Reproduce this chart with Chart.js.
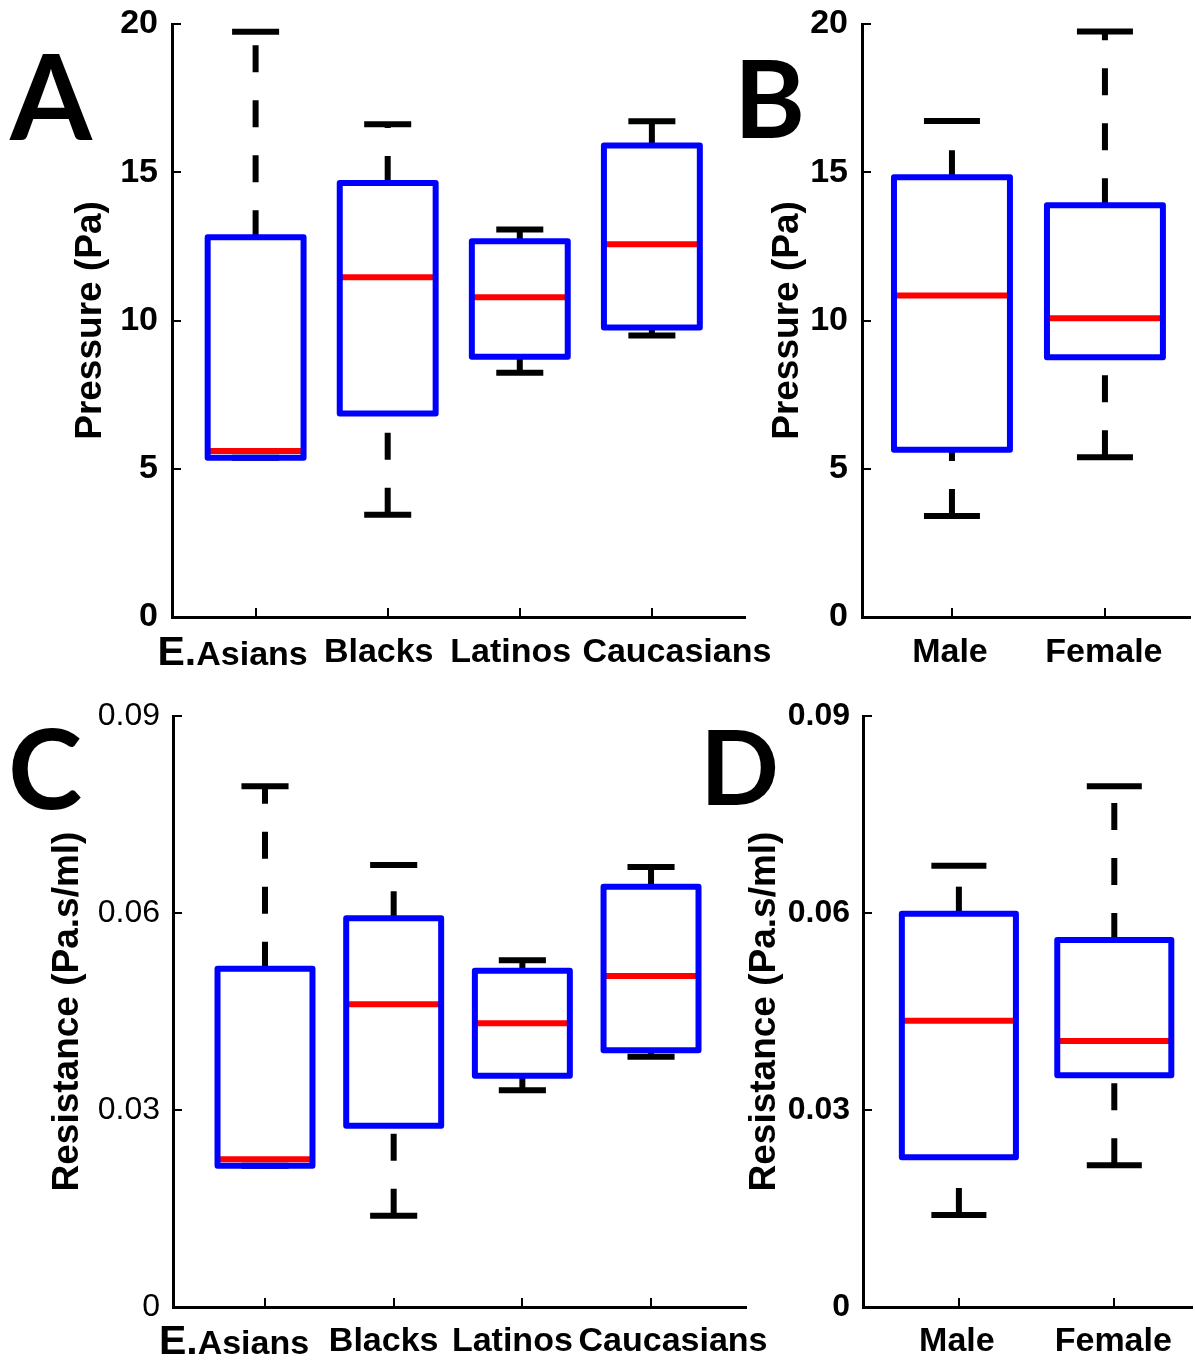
<!DOCTYPE html>
<html><head><meta charset="utf-8">
<script src="https://cdn.jsdelivr.net/npm/chart.js@4.4.1/dist/chart.umd.min.js"></script>
<style>
html,body{margin:0;padding:0;background:#fff;}
body{width:1195px;height:1363px;position:relative;overflow:hidden;}
canvas{position:absolute;}
</style></head><body>
<canvas id="cA" width="800" height="690" style="left:0px;top:0px"></canvas>
<canvas id="cB" width="495" height="690" style="left:700px;top:0px"></canvas>
<canvas id="cC" width="800" height="673" style="left:0px;top:690px"></canvas>
<canvas id="cD" width="495" height="673" style="left:700px;top:690px"></canvas>
<script>
// ---- categories ----
const ethnicGroups = ['E.Asians', 'Blacks', 'Latinos', 'Caucasians'];
const sexGroups = ['Male', 'Female'];

// ---- Panel A: Pressure (Pa) by ethnicity ----
const pressEthMin = [5.37, 3.45, 8.24, 9.49];
const pressEthQ1  = [5.37, 6.86, 8.78, 9.76];
const pressEthMed = [5.60, 11.46, 10.78, 12.57];
const pressEthQ3  = [12.81, 14.64, 12.67, 15.90];
const pressEthMax = [19.74, 16.62, 13.07, 16.72];

// ---- Panel B: Pressure (Pa) by sex ----
const pressSexMin = [3.41, 5.39];
const pressSexQ1  = [5.64, 8.76];
const pressSexMed = [10.84, 10.08];
const pressSexQ3  = [14.83, 13.89];
const pressSexMax = [16.73, 19.75];

// ---- Panel C: Resistance (Pa.s/ml) by ethnicity ----
const resEthMin = [0.0215, 0.0139, 0.0330, 0.0381];
const resEthQ1  = [0.0215, 0.0276, 0.0352, 0.0391];
const resEthMed = [0.0225, 0.0461, 0.0432, 0.0504];
const resEthQ3  = [0.0515, 0.0592, 0.0512, 0.0640];
const resEthMax = [0.0793, 0.0673, 0.0528, 0.0670];

// ---- Panel D: Resistance (Pa.s/ml) by sex ----
const resSexMin = [0.0140, 0.0216];
const resSexQ1  = [0.0228, 0.0353];
const resSexMed = [0.0436, 0.0405];
const resSexQ3  = [0.0599, 0.0559];
const resSexMax = [0.0672, 0.0793];

// ---- tick labels ----
const pressureTicks = [0, 5, 10, 15, 20];
const resistanceTicks = [0, 0.03, 0.06, 0.09];

const FONT = "'Liberation Sans', Arial, sans-serif";
const LETTER_FONT = "Lato, 'Open Sans', sans-serif";

function buildDatasets(groups, mins, q1s, meds, q3s, maxs, halfBox, halfCap) {
  const ds = [];
  const base = {pointRadius: 0, tension: 0, fill: false, clip: false, borderCapStyle: 'butt'};
  groups.forEach((g, i) => {
    const x = i + 1;
    ds.push(Object.assign({}, base, {
      label: g + ' box', order: 0, borderColor: '#0000ff', borderWidth: 6, borderJoinStyle: 'round', borderCapStyle: 'round',
      data: [{x: x - halfBox, y: q1s[i]}, {x: x + halfBox, y: q1s[i]}, {x: x + halfBox, y: q3s[i]}, {x: x - halfBox, y: q3s[i]}, {x: x - halfBox, y: q1s[i]}]
    }));
    ds.push(Object.assign({}, base, {
      label: g + ' median', order: 1, borderColor: '#ff0000', borderWidth: 6,
      data: [{x: x - halfBox, y: meds[i]}, {x: x + halfBox, y: meds[i]}]
    }));
    ds.push(Object.assign({}, base, {
      label: g + ' lower whisker', order: 2, borderColor: '#000', borderWidth: 6, borderDash: [27, 28],
      data: [{x: x, y: mins[i]}, {x: x, y: q1s[i]}]
    }));
    ds.push(Object.assign({}, base, {
      label: g + ' upper whisker', order: 2, borderColor: '#000', borderWidth: 6, borderDash: [27, 28],
      data: [{x: x, y: q3s[i]}, {x: x, y: maxs[i]}]
    }));
    ds.push(Object.assign({}, base, {
      label: g + ' lower cap', order: 2, borderColor: '#000', borderWidth: 6,
      data: [{x: x - halfCap, y: mins[i]}, {x: x + halfCap, y: mins[i]}]
    }));
    ds.push(Object.assign({}, base, {
      label: g + ' upper cap', order: 2, borderColor: '#000', borderWidth: 6,
      data: [{x: x - halfCap, y: maxs[i]}, {x: x + halfCap, y: maxs[i]}]
    }));
  });
  return ds;
}

function drawLabel(ctx, text, cx, cy, size) {
  // abbreviation prefix such as "E." is set slightly larger, as in the original figure
  const dot = text.indexOf('.');
  const mainFont = 'bold ' + size + 'px ' + FONT;
  if (dot < 0) {
    ctx.font = mainFont; ctx.textAlign = 'center'; ctx.fillText(text, cx, cy); return;
  }
  const pre = text.slice(0, dot + 1), rest = text.slice(dot + 1);
  const preFont = 'bold ' + Math.round(size * 1.22) + 'px ' + FONT;
  ctx.font = preFont; const w1 = ctx.measureText(pre).width;
  ctx.font = mainFont; const w2 = ctx.measureText(rest).width;
  const x0 = cx - (w1 + w2) / 2;
  ctx.textAlign = 'left';
  ctx.textBaseline = 'alphabetic';
  const base = cy + size * 0.36;
  ctx.font = preFont; ctx.fillText(pre, x0, base);
  ctx.font = mainFont; ctx.fillText(rest, x0 + w1, base);
  ctx.textBaseline = 'middle';
}

function makePanel(cfg) {
  const decor = {
    id: 'decor' + cfg.letter,
    afterDraw(chart) {
      const ctx = chart.ctx, xs = chart.scales.x, ys = chart.scales.y, ca = chart.chartArea;
      ctx.save();
      ctx.strokeStyle = '#000';
      ctx.lineWidth = 2;
      ys.ticks.forEach(t => {
        const py = Math.round(ys.getPixelForValue(t.value));
        ctx.beginPath(); ctx.moveTo(ca.left, py); ctx.lineTo(ca.left + 9, py); ctx.stroke();
      });
      xs.ticks.forEach(t => {
        const px = Math.round(xs.getPixelForValue(t.value));
        ctx.beginPath(); ctx.moveTo(px, ca.bottom); ctx.lineTo(px, ca.bottom - 9); ctx.stroke();
      });
      ctx.fillStyle = '#000';
      ctx.textBaseline = 'middle';
      cfg.groups.forEach((g, i) => {
        drawLabel(ctx, g, xs.getPixelForValue(i + 1) + cfg.labelOffsets[i], ca.bottom + cfg.labelDy, cfg.xFont);
      });
      ctx.font = 'bold ' + cfg.letterSize + 'px ' + LETTER_FONT;
      ctx.textAlign = 'left';
      ctx.textBaseline = 'alphabetic';
      ctx.fillText(cfg.letter, cfg.letterX, cfg.letterY);
      ctx.restore();
    }
  };
  new Chart(document.getElementById(cfg.canvas), {
    type: 'line',
    data: {datasets: buildDatasets(cfg.groups, cfg.mins, cfg.q1s, cfg.meds, cfg.q3s, cfg.maxs, cfg.halfBox, cfg.halfCap)},
    options: {
      responsive: false, animation: false, devicePixelRatio: 1, events: [],
      layout: {padding: cfg.pad},
      plugins: {legend: {display: false}, tooltip: {enabled: false}},
      scales: {
        x: {
          type: 'linear', min: cfg.xMin, max: cfg.xMax,
          afterBuildTicks: s => { s.ticks = cfg.groups.map((g, i) => ({value: i + 1})); },
          afterFit: s => { s.height = cfg.xHeight; s.paddingLeft = 0; s.paddingRight = 0; },
          ticks: {display: false},
          grid: {display: true, drawOnChartArea: false, drawTicks: false},
          border: {display: true, color: '#000', width: 3}
        },
        y: {
          type: 'linear', min: 0, max: cfg.yTicks[cfg.yTicks.length - 1],
          afterBuildTicks: s => { s.ticks = cfg.yTicks.map(v => ({value: v})); },
          afterFit: s => { s.width = cfg.yWidth; s.paddingTop = 0; s.paddingBottom = 0; },
          ticks: {
            color: '#000', padding: cfg.tickPad,
            font: {family: FONT, size: cfg.tickFont, weight: cfg.tickWeight},
            callback: v => (v === 0 ? '0' : (cfg.decimals ? v.toFixed(cfg.decimals) : String(v)))
          },
          grid: {display: true, drawOnChartArea: false, drawTicks: false},
          border: {display: true, color: '#000', width: 3},
          title: {
            display: true, text: cfg.yTitle, color: '#000',
            font: {family: FONT, size: 37, weight: 'bold'},
            padding: {top: cfg.titlePad, bottom: 0}
          }
        }
      }
    },
    plugins: [decor]
  });
}

makePanel({
  canvas: 'cA', letter: 'A', letterX: 10, letterY: 140, letterSize: 118,
  groups: ethnicGroups, mins: pressEthMin, q1s: pressEthQ1, meds: pressEthMed, q3s: pressEthQ3, maxs: pressEthMax,
  yTicks: pressureTicks, decimals: 0, yTitle: 'Pressure (Pa)',
  xMin: 0.367, xMax: 4.705, halfBox: 0.363, halfCap: 0.178,
  yWidth: 172, xHeight: 73, pad: {top: 24, right: 55, bottom: 0, left: 0},
  titlePad: 69, labelOffsets: [-23, -9, -9, 25], labelDy: 36, xFont: 34,
  tickFont: 34, tickWeight: 'bold', tickPad: 14
});
makePanel({
  canvas: 'cB', letter: 'B', letterX: 34, letterY: 138, letterSize: 108,
  groups: sexGroups, mins: pressSexMin, q1s: pressSexQ1, meds: pressSexMed, q3s: pressSexQ3, maxs: pressSexMax,
  yTicks: pressureTicks, decimals: 0, yTitle: 'Pressure (Pa)',
  xMin: 0.412, xMax: 2.556, halfBox: 0.379, halfCap: 0.183,
  yWidth: 162, xHeight: 73, pad: {top: 24, right: 5, bottom: 0, left: 0},
  titlePad: 66, labelOffsets: [-2, -1], labelDy: 36, xFont: 34,
  tickFont: 34, tickWeight: 'bold', tickPad: 14
});
makePanel({
  canvas: 'cC', letter: 'C', letterX: 8, letterY: 119, letterSize: 112,
  groups: ethnicGroups, mins: resEthMin, q1s: resEthQ1, meds: resEthMed, q3s: resEthQ3, maxs: resEthMax,
  yTicks: resistanceTicks, decimals: 2, yTitle: 'Resistance (Pa.s/ml)',
  xMin: 0.285, xMax: 4.738, halfBox: 0.369, halfCap: 0.183,
  yWidth: 173, xHeight: 56, pad: {top: 26, right: 54, bottom: 0, left: 0},
  titlePad: 46, labelOffsets: [-31, -10, -10, 22], labelDy: 35, xFont: 34,
  tickFont: 32, tickWeight: 'normal', tickPad: 13
});
makePanel({
  canvas: 'cD', letter: 'D', letterX: 0, letterY: 115, letterSize: 104,
  groups: sexGroups, mins: resSexMin, q1s: resSexQ1, meds: resSexMed, q3s: resSexQ3, maxs: resSexMax,
  yTicks: resistanceTicks, decimals: 2, yTitle: 'Resistance (Pa.s/ml)',
  xMin: 0.383, xMax: 2.50, halfBox: 0.367, halfCap: 0.177,
  yWidth: 163, xHeight: 56, pad: {top: 26, right: 3, bottom: 0, left: 0},
  titlePad: 43, labelOffsets: [-2, -1], labelDy: 35, xFont: 34,
  tickFont: 32, tickWeight: 'bold', tickPad: 13
});
</script>
</body></html>
